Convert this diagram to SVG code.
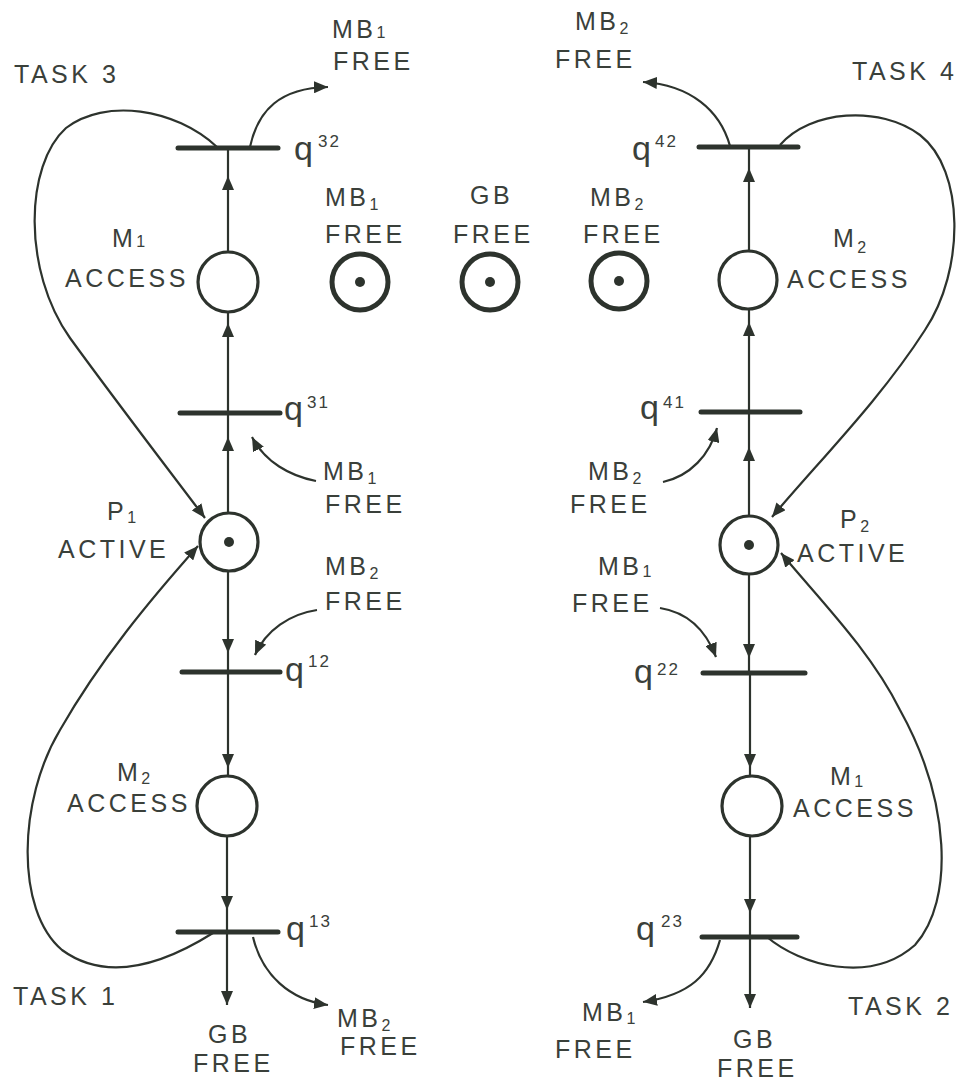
<svg xmlns="http://www.w3.org/2000/svg" width="972" height="1088" viewBox="0 0 972 1088">
<defs>
  <marker id="ah" viewBox="0 0 14 12" refX="14" refY="6" markerWidth="14" markerHeight="12" markerUnits="userSpaceOnUse" orient="auto">
    <path d="M0,0 L14,6 L0,12 z" fill="#2d332d"/>
  </marker>
</defs>
<style>
  .t{font-family:"Liberation Sans",Arial,sans-serif;font-size:25px;letter-spacing:3.5px;fill:#3a403a}
  .s{font-size:16px;letter-spacing:0}
  .q{font-family:"Liberation Sans",Arial,sans-serif;font-size:34px;fill:#3a403a}
  .qs{font-size:17px;letter-spacing:2px}
  .bar{stroke:#2d332d;stroke-width:5;stroke-linecap:round}
  .pl{fill:#fff;stroke:#2d332d;stroke-width:3.2}
  .tok{fill:#fff;stroke:#2d332d;stroke-width:5}
  .dot{fill:#2d332d}
  .c{fill:none;stroke:#2d332d;stroke-width:2.2}
  .cv{marker-mid:url(#ah)}
  .ce{marker-end:url(#ah)}
</style>
<rect width="972" height="1088" fill="#fff"/>

<g id="connectors">
  <!-- left chain (tasks 3 and 1) -->
  <path class="c cv" d="M228,252 L228,176 L228,148"/>
  <path class="c cv" d="M228,413 L228,323 L228,312"/>
  <path class="c cv" d="M228,513 L228,437 L228,413"/>
  <path class="c cv" d="M228,571 L228,653 L228,672"/>
  <path class="c cv" d="M228,672 L228,768 L228,776"/>
  <path class="c cv" d="M227,836 L227,910 L227,932"/>
  <path class="c ce" d="M227,932 L227,1005"/>
  <!-- right chain (tasks 4 and 2) -->
  <path class="c cv" d="M749,251 L749,168 L749,148"/>
  <path class="c cv" d="M749,412 L749,322 L749,310"/>
  <path class="c cv" d="M749,516 L749,447 L749,412"/>
  <path class="c cv" d="M749,574 L749,658 L749,673"/>
  <path class="c cv" d="M750,673 L750,768 L750,776"/>
  <path class="c cv" d="M750,836 L750,913 L750,937"/>
  <path class="c ce" d="M750,937 L750,1008"/>
  <!-- loop arcs back to the processor places -->
  <path class="c ce" d="M217,147 C175,108 105,98 66,128 C25,165 22,270 70,338 C115,400 165,465 205,518"/>
  <path class="c ce" d="M780,145 C810,110 880,105 920,135 C965,170 965,270 925,330 C880,400 820,460 772,517"/>
  <path class="c ce" d="M213,933 C170,960 110,985 62,950 C15,910 18,800 60,730 C100,660 150,600 198,546"/>
  <path class="c ce" d="M767,937 C800,965 870,985 915,945 C955,900 950,800 900,710 C870,650 820,600 781,553"/>
  <!-- bus release / request arcs -->
  <path class="c ce" d="M250,147 C258,110 280,88 328,87"/>
  <path class="c ce" d="M730,146 C720,110 690,85 643,82"/>
  <path class="c ce" d="M253,937 C262,975 290,1000 328,1005"/>
  <path class="c ce" d="M720,940 C710,975 690,995 643,1002"/>
  <path class="c ce" d="M316,481 C290,476 265,462 252,437"/>
  <path class="c ce" d="M317,610 C290,614 266,630 255,655"/>
  <path class="c ce" d="M663,482 C690,476 710,455 717,428"/>
  <path class="c ce" d="M660,608 C685,612 705,628 716,657"/>
</g>

<!-- shared resource places -->
<g id="mb1-free">
  <text class="t" x="325" y="206">MB<tspan class="s" dy="4">1</tspan></text>
  <text class="t" x="325" y="243">FREE</text>
  <circle class="tok" cx="360" cy="282" r="28"/>
  <circle class="dot" cx="360" cy="282" r="5"/>
</g>
<g id="gb-free">
  <text class="t" x="470" y="204">GB</text>
  <text class="t" x="453" y="243">FREE</text>
  <circle class="tok" cx="490" cy="282" r="28"/>
  <circle class="dot" cx="490" cy="282" r="5"/>
</g>
<g id="mb2-free">
  <text class="t" x="590" y="206">MB<tspan class="s" dy="4">2</tspan></text>
  <text class="t" x="583" y="243">FREE</text>
  <circle class="tok" cx="619" cy="281" r="28"/>
  <circle class="dot" cx="619" cy="281" r="5"/>
</g>

<!-- left column places -->
<g id="m1-access-left">
  <text class="t" x="112" y="247">M<tspan class="s" dy="0">1</tspan></text>
  <text class="t" x="65" y="287">ACCESS</text>
  <circle class="pl" cx="228" cy="282" r="30"/>
</g>
<g id="p1-active">
  <text class="t" x="107" y="520">P<tspan class="s" dy="3">1</tspan></text>
  <text class="t" x="58" y="558">ACTIVE</text>
  <circle class="pl" cx="229" cy="542" r="29"/>
  <circle class="dot" cx="229" cy="542" r="5"/>
</g>
<g id="m2-access-left">
  <text class="t" x="117" y="781">M<tspan class="s" dy="3">2</tspan></text>
  <text class="t" x="67" y="812">ACCESS</text>
  <circle class="pl" cx="227" cy="806" r="30"/>
</g>

<!-- right column places -->
<g id="m2-access-right">
  <text class="t" x="833" y="247">M<tspan class="s" dy="6">2</tspan></text>
  <text class="t" x="787" y="288">ACCESS</text>
  <circle class="pl" cx="748" cy="280" r="29"/>
</g>
<g id="p2-active">
  <text class="t" x="840" y="528">P<tspan class="s" dy="4">2</tspan></text>
  <text class="t" x="797" y="562">ACTIVE</text>
  <circle class="pl" cx="749" cy="545" r="29"/>
  <circle class="dot" cx="749" cy="545" r="5"/>
</g>
<g id="m1-access-right">
  <text class="t" x="830" y="785">M<tspan class="s" dy="2">1</tspan></text>
  <text class="t" x="793" y="817">ACCESS</text>
  <circle class="pl" cx="752" cy="806" r="30"/>
</g>

<!-- transitions -->
<g id="q32">
  <line class="bar" x1="178" y1="148" x2="278" y2="148"/>
  <text class="q" x="294" y="160">q<tspan class="qs" dx="5" dy="-13">32</tspan></text>
</g>
<g id="q31">
  <line class="bar" x1="180" y1="413" x2="280" y2="413"/>
  <text class="q" x="284" y="420">q<tspan class="qs" dx="4" dy="-12">31</tspan></text>
</g>
<g id="q12">
  <line class="bar" x1="182" y1="672" x2="280" y2="672"/>
  <text class="q" x="285" y="681">q<tspan class="qs" dx="4" dy="-14">12</tspan></text>
</g>
<g id="q13">
  <line class="bar" x1="178" y1="932" x2="278" y2="932"/>
  <text class="q" x="286" y="940">q<tspan class="qs" dx="4" dy="-13">13</tspan></text>
</g>
<g id="q42">
  <line class="bar" x1="699" y1="147" x2="798" y2="147"/>
  <text class="q" x="632" y="160">q<tspan class="qs" dx="4" dy="-13">42</tspan></text>
</g>
<g id="q41">
  <line class="bar" x1="701" y1="412" x2="800" y2="412"/>
  <text class="q" x="640" y="419">q<tspan class="qs" dx="4" dy="-11">41</tspan></text>
</g>
<g id="q22">
  <line class="bar" x1="703" y1="673" x2="805" y2="673"/>
  <text class="q" x="634" y="683">q<tspan class="qs" dx="4" dy="-8">22</tspan></text>
</g>
<g id="q23">
  <line class="bar" x1="702" y1="937" x2="797" y2="937"/>
  <text class="q" x="636" y="940">q<tspan class="qs" dx="6" dy="-13">23</tspan></text>
</g>

<!-- outer resource labels -->
<g id="labels">
  <text class="t" x="14" y="83">TASK 3</text>
  <text class="t" x="852" y="80">TASK 4</text>
  <text class="t" x="13" y="1005">TASK 1</text>
  <text class="t" x="848" y="1015">TASK 2</text>
  <text class="t" x="332" y="38">MB<tspan class="s" dy="0">1</tspan></text>
  <text class="t" x="333" y="70">FREE</text>
  <text class="t" x="575" y="30">MB<tspan class="s" dy="4">2</tspan></text>
  <text class="t" x="555" y="68">FREE</text>
  <text class="t" x="323" y="480">MB<tspan class="s" dy="4">1</tspan></text>
  <text class="t" x="325" y="513">FREE</text>
  <text class="t" x="325" y="575">MB<tspan class="s" dy="4">2</tspan></text>
  <text class="t" x="325" y="610">FREE</text>
  <text class="t" x="588" y="480">MB<tspan class="s" dy="4">2</tspan></text>
  <text class="t" x="570" y="513">FREE</text>
  <text class="t" x="598" y="575">MB<tspan class="s" dy="2">1</tspan></text>
  <text class="t" x="572" y="612">FREE</text>
  <text class="t" x="208" y="1043">GB</text>
  <text class="t" x="193" y="1072">FREE</text>
  <text class="t" x="337" y="1027">MB<tspan class="s" dy="4">2</tspan></text>
  <text class="t" x="340" y="1055">FREE</text>
  <text class="t" x="582" y="1021">MB<tspan class="s" dy="3">1</tspan></text>
  <text class="t" x="555" y="1058">FREE</text>
  <text class="t" x="733" y="1048">GB</text>
  <text class="t" x="717" y="1077">FREE</text>
</g>
</svg>
